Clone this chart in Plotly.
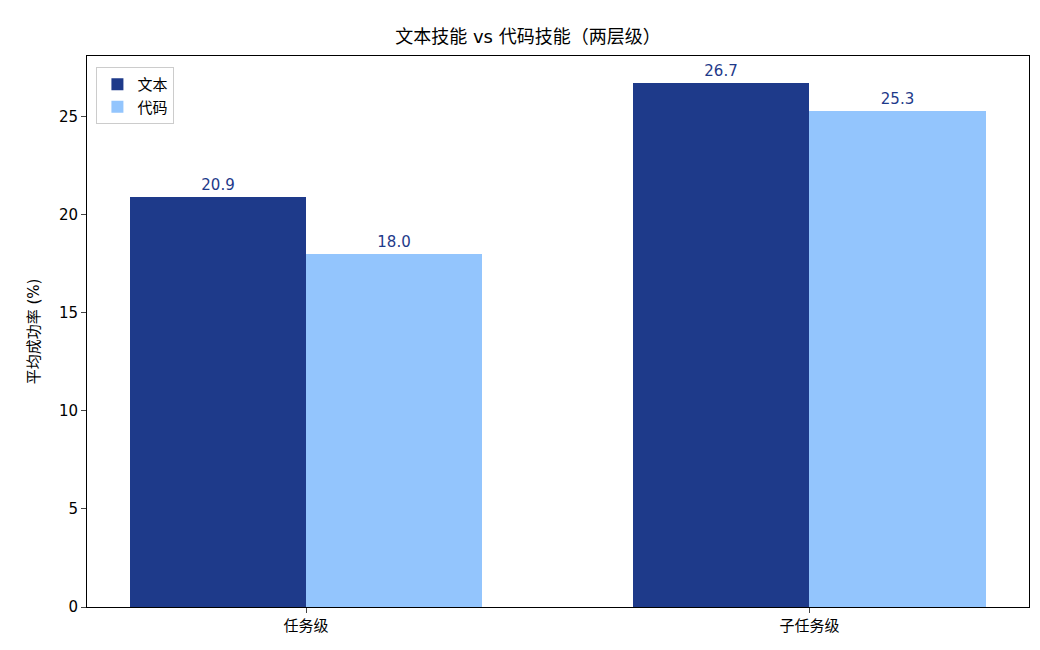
import plotly.graph_objects as go

categories = ["任务级", "子任务级"]
text_vals = [20.9, 26.7]
code_vals = [18.0, 25.3]

font = "DejaVu Sans, Noto Sans CJK SC"
fig = go.Figure()
for name, vals, color, off in [("文本", text_vals, "#1e3a8a", -0.35), ("代码", code_vals, "#93c5fd", 0.0)]:
    fig.add_trace(go.Bar(
        x=[0, 1], y=vals, name=name, width=0.35, offset=off,
        marker=dict(color=color, line=dict(width=0)),
        text=[f"{v:.1f}" for v in vals], textposition="outside",
        textfont=dict(color="#1e3a8a", size=15), cliponaxis=False,
    ))

fig.update_layout(
    width=1040, height=650,
    paper_bgcolor="white", plot_bgcolor="white",
    font=dict(family=font, size=15, color="black"),
    title=dict(text="文本技能 vs 代码技能（两层级）", x=0.5, xanchor="center", y=0.965, font=dict(size=18)),
    margin=dict(l=79, r=19, t=48, b=51),
    barmode="overlay", bargap=0,
    legend=dict(x=0.01, y=0.98, xanchor="left", yanchor="top",
                bordercolor="#cccccc", borderwidth=1, bgcolor="white", font=dict(size=15)),
    xaxis=dict(range=[-0.435, 1.436], tickvals=[0, 1], ticktext=categories,
               showline=True, linecolor="black", mirror=True, ticks="outside", showgrid=False),
    yaxis=dict(range=[0, 28.1], dtick=5, title=dict(text="平均成功率 (%)", font=dict(size=15)),
               showline=True, linecolor="black", mirror=True, ticks="outside", showgrid=False, zeroline=False),
)
fig.write_html("out.html")
